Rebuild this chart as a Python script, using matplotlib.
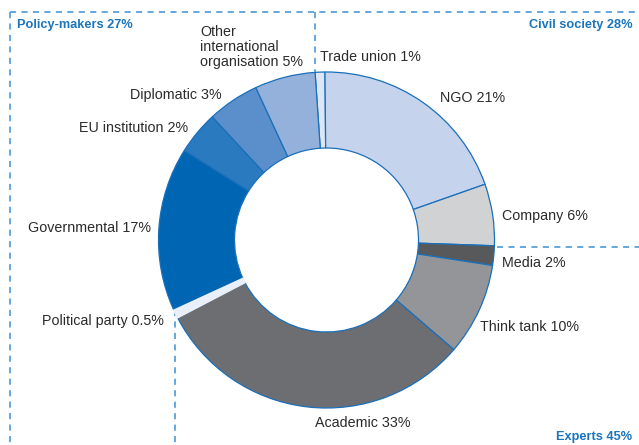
"""Respondents by type - donut chart"""
import matplotlib
matplotlib.use('Agg')
import matplotlib.pyplot as plt

plt.rcParams['font.family'] = ['Liberation Sans', 'DejaVu Sans']

# segments clockwise from the top
categories = ['Trade union', 'NGO', 'Company', 'Media', 'Think tank', 'Academic',
              'Political party', 'Governmental', 'EU institution', 'Diplomatic',
              'Other international organisation']
# wedge shares as drawn in the picture
shares = [0.95, 20.0, 6.0, 1.9, 9.0, 31.4, 0.8, 16.0, 4.2, 5.05, 5.9]
# percentages printed in the labels
printed = ['1%', '21%', '6%', '2%', '10%', '33%', '0.5%', '17%', '2%', '3%', '5%']
colors = ['#dde6f4', '#c5d3ec', '#d1d2d4', '#58595b', '#939598', '#6d6e71',
          '#eaf0f9', '#0066b3', '#2a7abf', '#5b8fcc', '#94b1dc']

groups = ['Policy-makers 27%', 'Civil society 28%', 'Experts 45%']

W, H = 639, 445
BLUE = '#1a6fba'
DASH = '#3b8fd4'


def py(y):
    # picture rows counted from the top
    return H - y


def main():
    fig = plt.figure(figsize=(W / 100, H / 100), dpi=100)
    ax = fig.add_axes([0, 0, 1, 1])

    wedges, _ = ax.pie(shares, colors=colors, startangle=93.9, counterclock=False,
                       center=(326.5, py(240)), radius=168,
                       wedgeprops=dict(width=76, edgecolor=BLUE, linewidth=0.9))
    # the political party sliver reads as a pale gap
    wedges[6].set_edgecolor(colors[6])
    wedges[6].set_linewidth(1.2)
    wedges[6].set_zorder(3)
    ax.set_xlim(0, W)
    ax.set_ylim(0, H)
    ax.set_aspect('equal')
    ax.axis('off')

    # dashed group boundaries
    dash = dict(color=DASH, lw=1.1, ls=(0, (4, 3.5)))
    ax.plot([10, W], [py(12), py(12)], **dash)
    ax.plot([10, 10], [py(12), 0], **dash)
    ax.plot([315, 315], [py(12), py(72)], **dash)
    ax.plot([497, W], [py(247), py(247)], **dash)
    ax.plot([175, 175], [py(310), 0], **dash)

    lab = [f'{c} {p}' for c, p in zip(categories, printed)]
    lab[10] = 'Other\ninternational\norganisation ' + printed[10]
    # (x, y, ha) for each label in picture pixels
    places = [(320, 57, 'left'), (440, 98, 'left'), (502, 216, 'left'),
              (502, 263, 'left'), (480, 327, 'left'), (315, 423, 'left'),
              (164, 321, 'right'), (151, 228, 'right'), (188, 128, 'right'),
              (222, 95, 'right'), (200, 47, 'left')]
    for t, (x, y, ha) in zip(lab, places):
        ax.text(x, py(y), t, ha=ha, va='center', fontsize=10.3, color='#2b2b2b',
                linespacing=1.05)

    gkw = dict(fontsize=9.2, fontweight='bold', color='#1a75bc', va='center')
    ax.text(17, py(25), groups[0], ha='left', **gkw)
    ax.text(633, py(25), groups[1], ha='right', **gkw)
    ax.text(632, py(437), groups[2], ha='right', **gkw)

    fig.savefig('out.png', dpi=100)


if __name__ == '__main__':
    main()
